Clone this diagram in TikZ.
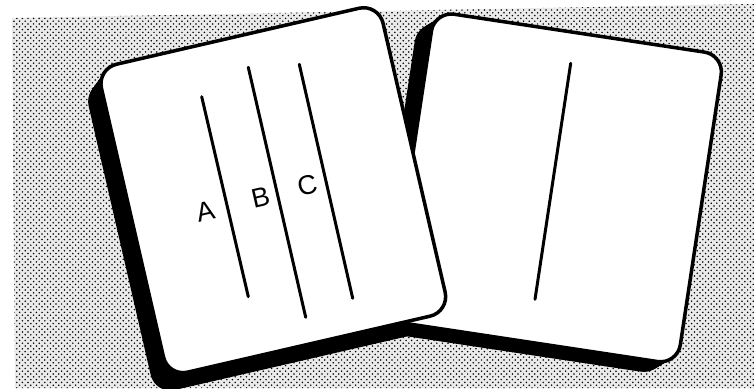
\documentclass[tikz,border=0pt]{standalone}
\usepackage{fontspec}
\setmainfont{Liberation Sans}
\usetikzlibrary{patterns}
\pgfdeclarepatternformonly{halftone}{\pgfqpoint{-1pt}{-1pt}}{\pgfqpoint{3.8pt}{3.8pt}}{\pgfqpoint{5.6pt}{5.6pt}}{%
  \pgfpathcircle{\pgfqpoint{0pt}{0pt}}{0.85pt}%
  \pgfpathcircle{\pgfqpoint{2.8pt}{2.8pt}}{0.85pt}%
  \pgfusepath{fill}%
}
\begin{document}
\begin{tikzpicture}[x=1pt,y=-1pt,
  cardface/.style={fill=white, draw=black, line width=3.5pt, rounded corners=20pt},
  cardslab/.style={fill=black, rounded corners=20pt},
  ink/.style={line width=3pt, line cap=round},
  lbl/.style={font=\fontsize{27}{27}\selectfont, inner sep=0pt, rotate=13}]
\useasboundingbox (0,0) rectangle (754,388);
\fill[white] (0,0) rectangle (754,388);
% stippled background
\fill[black!8] (12,18) -- (754,4) -- (754,388) -- (15,388) -- cycle;
\fill[pattern=halftone, pattern color=black] (12,18) -- (754,4) -- (754,388) -- (15,388) -- cycle;
% left card slab
\begin{scope}[shift={(273.3,190.2)}, rotate=13]
  \foreach \k in {0,...,24}{
    \pgfmathsetmacro{\dx}{-16.5*\k/24}
    \pgfmathsetmacro{\dy}{14.5*\k/24}
    \fill[cardslab] ({-144.5+\dx},{-158+\dy}) rectangle ({144.5+\dx},{158+\dy});
  }
\end{scope}
% right card slab
\begin{scope}[shift={(555.9,187.9)}, rotate=-8.6]
  \foreach \k in {0,...,24}{
    \pgfmathsetmacro{\dx}{-15*\k/24}
    \pgfmathsetmacro{\dy}{12.5*\k/24}
    \fill[cardslab] ({-146.5+\dx},{-156.5+\dy}) rectangle ({146.5+\dx},{156.5+\dy});
  }
  \draw[cardface] (-146.5,-156.5) rectangle (146.5,156.5);
\end{scope}
\coordinate (r1) at (570.7,63.3);
\coordinate (r2) at (535,299.3);
\draw[ink] (r1) -- (r2);
% left card face
\begin{scope}[shift={(273.3,190.2)}, rotate=13]
  \draw[cardface] (-144.5,-158) rectangle (144.5,158);
\end{scope}
\coordinate (a1) at (201.7,96.7);
\coordinate (a2) at (248.3,296.7);
\coordinate (b1) at (248.3,67.3);
\coordinate (b2) at (305.7,317.3);
\coordinate (c1) at (299.3,64.3);
\coordinate (c2) at (352.7,298.3);
\draw[ink] (a1) -- (a2);
\draw[ink] (b1) -- (b2);
\draw[ink] (c1) -- (c2);
\node[lbl] (la) at (205.3,211.3) {A};
\node[lbl] (lb) at (260.5,197.5) {B};
\node[lbl] (lc) at (307.3,185.3) {C};
\end{tikzpicture}
\end{document}
